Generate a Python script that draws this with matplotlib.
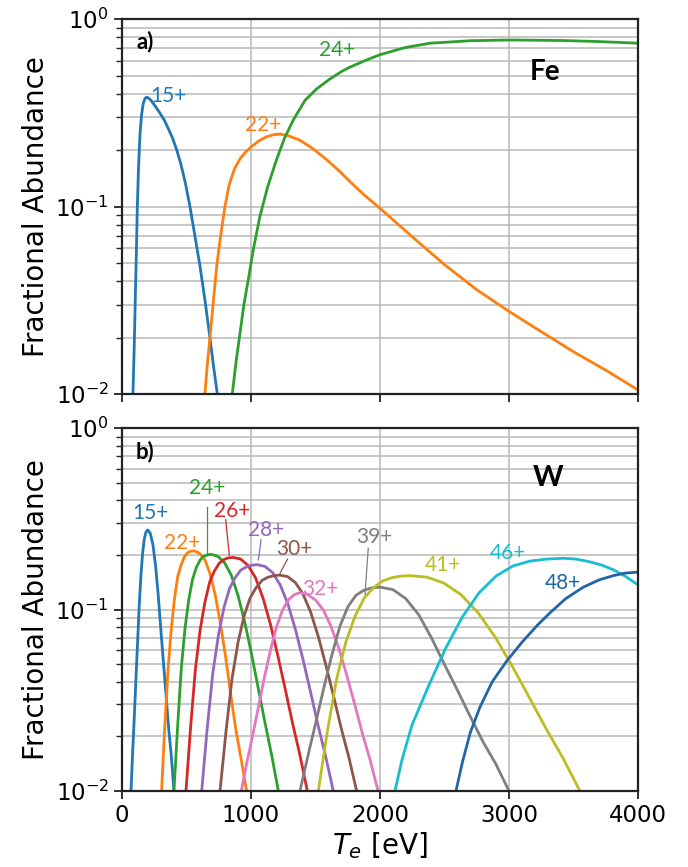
import matplotlib
matplotlib.use('Agg')
import matplotlib.pyplot as plt

# ---- Fe (panel a) ----
fe15_T = [85, 95, 103, 111, 119, 128, 140, 152, 165, 178, 191, 210, 230, 260, 295, 330, 360,
          392, 424, 455, 490, 527, 565, 605, 645, 682, 710, 739]
fe15_y = [0.01, 0.018, 0.0318, 0.055, 0.1, 0.16, 0.247, 0.31, 0.356, 0.377, 0.384, 0.378, 0.365,
          0.342, 0.315, 0.288, 0.26, 0.232, 0.201, 0.17, 0.135, 0.1, 0.07, 0.048, 0.031, 0.0199,
          0.014, 0.01]
fe22_T = [643, 660, 682, 708, 734, 765, 798, 830, 870, 915, 960, 1000, 1060, 1121, 1175, 1225,
          1290, 1380, 1480, 1587, 1680, 1767, 1880, 2000, 2250, 2500, 2750, 3000, 3250, 3500,
          3750, 4000]
fe22_y = [0.01, 0.014, 0.02, 0.031, 0.048, 0.07, 0.1, 0.13, 0.158, 0.18, 0.196, 0.208, 0.224,
          0.236, 0.242, 0.244, 0.239, 0.226, 0.204, 0.178, 0.156, 0.136, 0.115, 0.098, 0.069,
          0.049, 0.036, 0.0276, 0.0215, 0.0168, 0.0134, 0.0105]
fe24_T = [855, 885, 915, 945, 979, 1020, 1069, 1130, 1198, 1260, 1328, 1420, 1509, 1612, 1700,
          1767, 1880, 1995, 2190, 2388, 2700, 3008, 3421, 3700, 4000]
fe24_y = [0.01, 0.015, 0.0211, 0.03, 0.0407, 0.06, 0.0885, 0.128, 0.178, 0.232, 0.29, 0.37,
          0.425, 0.48, 0.525, 0.555, 0.6, 0.645, 0.705, 0.745, 0.768, 0.775, 0.77, 0.76, 0.745]

# ---- W (panel b) ----
w15_T = [70, 83, 96, 109, 122, 134, 147, 160, 173, 186, 199, 219, 240, 260, 281, 301, 321, 342,
         362, 383, 403]
w15_y = [0.01, 0.0166, 0.0261, 0.0426, 0.0688, 0.107, 0.155, 0.205, 0.245, 0.268, 0.275, 0.264,
         0.228, 0.176, 0.12, 0.078, 0.0515, 0.0335, 0.0221, 0.0154, 0.01]
w22_T = [307, 332, 357, 382, 407, 432, 458, 483, 508, 533, 558, 599, 640, 680, 721, 762, 803,
         844, 884, 925, 966]
w22_y = [0.01, 0.0228, 0.047, 0.078, 0.115, 0.152, 0.176, 0.195, 0.206, 0.21, 0.211, 0.205,
         0.19, 0.16, 0.122, 0.085, 0.055, 0.0335, 0.0215, 0.0148, 0.01]
w24_T = [403, 432, 460, 489, 518, 547, 575, 604, 633, 661, 690, 742, 794, 847, 899, 951, 1003,
         1055, 1108, 1160, 1212]
w24_y = [0.01, 0.0232, 0.0477, 0.0795, 0.114, 0.147, 0.17, 0.187, 0.197, 0.2, 0.202, 0.197,
         0.182, 0.155, 0.12, 0.0857, 0.0575, 0.0372, 0.0239, 0.0158, 0.01]
w26_T = [496, 533, 569, 606, 643, 680, 716, 753, 790, 826, 863, 920, 978, 1035, 1093, 1150, 1207,
         1265, 1322, 1380, 1437]
w26_y = [0.01, 0.023, 0.0468, 0.0774, 0.11, 0.142, 0.163, 0.18, 0.189, 0.193, 0.194, 0.19, 0.175,
         0.15, 0.116, 0.0834, 0.0562, 0.0366, 0.0237, 0.0157, 0.01]
w28_T = [618, 661, 704, 748, 791, 834, 877, 920, 964, 1007, 1050, 1109, 1168, 1226, 1285, 1344,
         1403, 1462, 1520, 1579, 1638]
w28_y = [0.01, 0.0223, 0.0446, 0.0726, 0.103, 0.131, 0.15, 0.165, 0.172, 0.176, 0.177, 0.173,
         0.16, 0.137, 0.108, 0.078, 0.0532, 0.0351, 0.023, 0.0155, 0.01]
w30_T = [760, 807, 853, 900, 946, 993, 1039, 1086, 1132, 1179, 1225, 1284, 1344, 1403, 1463, 1522,
         1581, 1641, 1700, 1760, 1819]
w30_y = [0.01, 0.0215, 0.0416, 0.0662, 0.092, 0.116, 0.132, 0.145, 0.151, 0.154, 0.155, 0.152,
         0.141, 0.122, 0.0967, 0.071, 0.0493, 0.0331, 0.0221, 0.0152, 0.01]
w32_T = [925, 971, 1016, 1062, 1107, 1153, 1198, 1244, 1289, 1335, 1380, 1441, 1501, 1562, 1622,
         1683, 1743, 1804, 1864, 1925, 1985]
w32_y = [0.01, 0.0147, 0.0207, 0.0301, 0.0433, 0.0605, 0.0804, 0.0993, 0.113, 0.121, 0.124,
         0.121, 0.113, 0.0993, 0.0804, 0.0605, 0.0433, 0.0301, 0.0207, 0.0147, 0.01]
w39_T = [1380, 1442, 1504, 1566, 1628, 1690, 1752, 1814, 1876, 1938, 2000, 2100, 2200, 2300, 2400,
         2500, 2600, 2700, 2800, 2900, 3000]
w39_y = [0.01, 0.0157, 0.0241, 0.0374, 0.0566, 0.0813, 0.104, 0.12, 0.128, 0.132, 0.133, 0.129,
         0.115, 0.0938, 0.0697, 0.0498, 0.036, 0.0257, 0.0186, 0.014, 0.01]
w41_T = [1522, 1593, 1664, 1735, 1806, 1878, 1949, 2020, 2091, 2162, 2233, 2365, 2496, 2628, 2760,
         2892, 3023, 3155, 3287, 3418, 3550]
w41_y = [0.01, 0.0215, 0.0415, 0.0661, 0.0917, 0.116, 0.132, 0.144, 0.15, 0.153, 0.154, 0.151,
         0.14, 0.121, 0.0963, 0.0707, 0.0491, 0.033, 0.0221, 0.0152, 0.01]
w46_T = [2116, 2170, 2247, 2377, 2508, 2638, 2769, 2899, 3030, 3160, 3291, 3421, 3520, 3620, 3720,
         3809, 3900, 4000]
w46_y = [0.01, 0.0148, 0.023, 0.038, 0.061, 0.091, 0.124, 0.153, 0.174, 0.185, 0.19, 0.192, 0.19,
         0.184, 0.176, 0.166, 0.153, 0.137]
w48_T = [2589, 2640, 2700, 2775, 2870, 2982, 3100, 3220, 3318, 3440, 3576, 3700, 3809, 3900, 4000]
w48_y = [0.01, 0.0145, 0.021, 0.029, 0.04, 0.052, 0.066, 0.082, 0.096, 0.115, 0.133, 0.146, 0.154,
         0.159, 0.161]

LBL_FONT = ['Lato', 'DejaVu Sans']
LBL_SIZE = 15
lw = 2.0

fig = plt.figure(figsize=(6.88, 8.67), dpi=100)
ax1 = fig.add_axes([0.1773, 0.5456, 0.75, 0.4322])
ax2 = fig.add_axes([0.1773, 0.0877, 0.75, 0.4183], sharex=ax1)


def style_axes(ax):
    ax.set_yscale('log')
    ax.set_ylim(1e-2, 1)
    ax.set_xlim(0, 4000)
    ax.set_xticks([0, 1000, 2000, 3000, 4000])
    ax.grid(True, which='major', color='#b8b8b8', lw=1.1)
    ax.grid(True, which='minor', axis='y', color='#b8b8b8', lw=1.1)
    ax.tick_params(axis='both', which='major', labelsize=16.5, width=1.3, length=6, color='#222222')
    ax.tick_params(axis='y', which='minor', width=1.0, length=4, color='#222222')
    for s in ax.spines.values():
        s.set_linewidth(1.6)
        s.set_color('#222222')
    ax.set_ylabel('Fractional Abundance', fontsize=20)
    ax.set_axisbelow(True)


style_axes(ax1)
style_axes(ax2)
plt.setp(ax1.get_xticklabels(), visible=False)

# panel a
ax1.plot(fe15_T, fe15_y, color='tab:blue', lw=lw)
ax1.plot(fe22_T, fe22_y, color='tab:orange', lw=lw)
ax1.plot(fe24_T, fe24_y, color='tab:green', lw=lw)
ax1.text(222, 0.39, '15+', color='tab:blue', fontsize=LBL_SIZE, family=LBL_FONT, ha='left', va='center')
ax1.text(1093, 0.273, '22+', color='tab:orange', fontsize=LBL_SIZE, family=LBL_FONT, ha='center', va='center')
ax1.text(1667, 0.686, '24+', color='tab:green', fontsize=LBL_SIZE, family=LBL_FONT, ha='center', va='center')
ax1.text(0.82, 0.859, 'Fe', transform=ax1.transAxes, fontsize=20, fontweight='bold',
         family=LBL_FONT, ha='center', va='center')
ax1.text(0.045, 0.94, 'a)', transform=ax1.transAxes, fontsize=16, fontweight='bold',
         family=LBL_FONT, ha='center', va='center')

# panel b
w_series = [
    (w15_T, w15_y, 'tab:blue'),
    (w22_T, w22_y, 'tab:orange'),
    (w24_T, w24_y, 'tab:green'),
    (w26_T, w26_y, 'tab:red'),
    (w28_T, w28_y, 'tab:purple'),
    (w30_T, w30_y, 'tab:brown'),
    (w32_T, w32_y, 'tab:pink'),
    (w39_T, w39_y, 'tab:gray'),
    (w41_T, w41_y, 'tab:olive'),
    (w46_T, w46_y, 'tab:cyan'),
    (w48_T, w48_y, '#2265a6'),
]
for T, y, c in w_series:
    ax2.plot(T, y, color=c, lw=lw)

# labels without leader lines
for txt, x, y, c in [('15+', 217, 0.343, 'tab:blue'),
                     ('22+', 463, 0.234, 'tab:orange'),
                     ('32+', 1535, 0.130, 'tab:pink'),
                     ('41+', 2491, 0.177, 'tab:olive'),
                     ('46+', 2990, 0.206, 'tab:cyan'),
                     ('48+', 3421, 0.140, '#2265a6')]:
    ax2.text(x, y, txt, color=c, fontsize=LBL_SIZE, family=LBL_FONT, ha='center', va='center')

# labels with leader lines
for txt, x, y, x0, y0, x1, y1, c in [
        ('24+', 657, 0.467, 661, 0.367, 661, 0.206, 'tab:green'),
        ('26+', 850, 0.352, 804, 0.313, 832, 0.200, 'tab:red'),
        ('28+', 1116, 0.275, 1078, 0.243, 1057, 0.188, 'tab:purple'),
        ('30+', 1333, 0.216, 1284, 0.190, 1225, 0.159, 'tab:brown'),
        ('39+', 1956, 0.251, 1909, 0.218, 1884, 0.121, 'tab:gray')]:
    ax2.text(x, y, txt, color=c, fontsize=LBL_SIZE, family=LBL_FONT, ha='center', va='center')
    ax2.plot([x0, x1], [y0, y1], color=c, lw=0.9)

ax2.text(0.826, 0.862, 'W', transform=ax2.transAxes, fontsize=21, fontweight='bold',
         family=LBL_FONT, ha='center', va='center')
ax2.text(0.045, 0.935, 'b)', transform=ax2.transAxes, fontsize=16, fontweight='bold',
         family=LBL_FONT, ha='center', va='center')
ax2.set_xlabel('$T_e$ [eV]', fontsize=20, labelpad=2)

fig.align_ylabels([ax1, ax2])
fig.savefig('out.png', dpi=100)
plt.close(fig)
